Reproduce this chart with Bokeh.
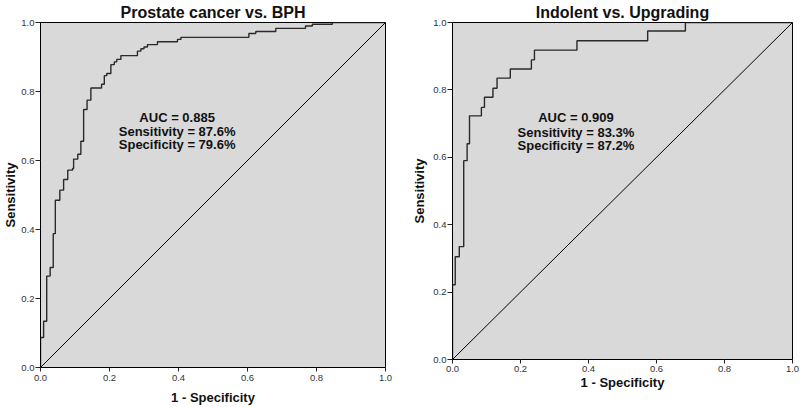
from bokeh.plotting import figure
from bokeh.layouts import row
from bokeh.models import Range1d, Label, FixedTicker
from bokeh.embed import file_html
from bokeh.resources import INLINE

# ---------------- data ----------------
left_title = "Prostate cancer vs. BPH"
left_fpr = [0.0, 0.0, 0.009, 0.018, 0.028, 0.037, 0.043, 0.056, 0.067, 0.079, 0.093,
            0.096, 0.108, 0.117, 0.125, 0.135, 0.146, 0.177, 0.185, 0.192, 0.204,
            0.214, 0.221, 0.233, 0.281, 0.291, 0.300, 0.310, 0.339, 0.397, 0.407,
            0.604, 0.624, 0.682, 0.768, 0.788, 0.846, 1.0]
left_tpr = [0.0, 0.087, 0.134, 0.265, 0.290, 0.388, 0.485, 0.514, 0.545, 0.572, 0.577,
            0.604, 0.618, 0.656, 0.748, 0.775, 0.810, 0.821, 0.846, 0.852, 0.878,
            0.886, 0.893, 0.904, 0.917, 0.924, 0.929, 0.936, 0.944, 0.951, 0.957,
            0.968, 0.974, 0.983, 0.990, 0.995, 1.0, 1.0]
left_stats = ["AUC = 0.885", "Sensitivity = 87.6%", "Specificity = 79.6%"]

right_title = "Indolent vs. Upgrading"
right_fpr = [0.0, 0.0, 0.008, 0.020, 0.033, 0.043, 0.050, 0.085, 0.094, 0.119, 0.131,
             0.170, 0.232, 0.241, 0.366, 0.574, 0.685, 1.0]
right_tpr = [0.0, 0.222, 0.305, 0.335, 0.590, 0.640, 0.723, 0.748, 0.778, 0.805, 0.835,
             0.862, 0.889, 0.918, 0.946, 0.975, 1.0, 1.0]
right_stats = ["AUC = 0.909", "Sensitivity = 83.3%", "Specificity = 87.2%"]

ref_x = [0.0, 1.0]
ref_y = [0.0, 1.0]

tick_values = [0.0, 0.2, 0.4, 0.6, 0.8, 1.0]
tick_labels = ["0.0", "0.2", "0.4", "0.6", "0.8", "1.0"]
x_label = "1 - Specificity"
y_label = "Sensitivity"

FONT = "Liberation Sans"


def make_panel(title, fpr, tpr, stats, width, height, mb, stat_x, stat_ys,
               title_standoff, x_std, y_std):
    p = figure(width=width, height=height, output_backend="svg", toolbar_location=None,
               title=title, x_range=Range1d(0, 1), y_range=Range1d(0, 1),
               min_border_left=mb[0], min_border_right=mb[1],
               min_border_top=mb[2], min_border_bottom=mb[3])
    p.background_fill_color = "#d9d9d9"
    p.border_fill_color = "white"
    p.outline_line_color = "black"
    p.outline_line_width = 1
    p.grid.visible = False

    p.title.align = "center"
    p.title.vertical_align = "top"
    p.title.text_font = FONT
    p.title.text_font_style = "bold"
    p.title.text_font_size = "16px"
    p.title.text_color = "#111111"
    p.title.standoff = title_standoff

    for ax in (p.xaxis[0], p.yaxis[0]):
        ax.ticker = FixedTicker(ticks=tick_values)
        ax.major_label_overrides = dict(zip(tick_values, tick_labels))
        ax.axis_line_color = "black"
        ax.major_tick_line_color = "#222222"
        ax.minor_tick_line_color = None
        ax.major_tick_in = 0
        ax.major_label_text_font = FONT
        ax.major_label_text_font_size = "9.5px"
        ax.major_label_text_color = "#333333"
        ax.axis_label_text_font = FONT
        ax.axis_label_text_font_style = "bold"
        ax.axis_label_text_font_size = "13px"
        ax.axis_label_text_color = "#111111"
    p.xaxis.axis_label = x_label
    p.yaxis.axis_label = y_label
    p.xaxis.major_tick_out = 4
    p.xaxis.major_label_standoff = x_std[0]
    p.xaxis.axis_label_standoff = x_std[1]
    p.yaxis.major_tick_out = 5
    p.yaxis.major_label_standoff = y_std[0]
    p.yaxis.axis_label_standoff = y_std[1]

    p.line(ref_x, ref_y, line_color="black", line_width=1)
    p.step(fpr, tpr, mode="after", line_color="#2a2a2a", line_width=1.4)

    for txt, yy in zip(stats, stat_ys):
        p.add_layout(Label(x=stat_x, y=yy, text=txt, text_align="center",
                           text_baseline="middle", text_font=FONT,
                           text_font_style="bold", text_font_size="13px",
                           text_color="#111111"))
    return p


p1 = make_panel(left_title, left_fpr, left_tpr, left_stats, 400, 407,
                (39, 15, 22, 40), 0.396, [0.7255, 0.685, 0.646],
                0, (3, 6), (1, 0))
p2 = make_panel(right_title, right_fpr, right_tpr, right_stats, 400, 399,
                (52, 8, 22, 40), 0.363, [0.717, 0.674, 0.635],
                0, (2, 0), (1, 3))

layout = row(p1, p2)
open("out.html", "w").write(file_html(layout, INLINE))
